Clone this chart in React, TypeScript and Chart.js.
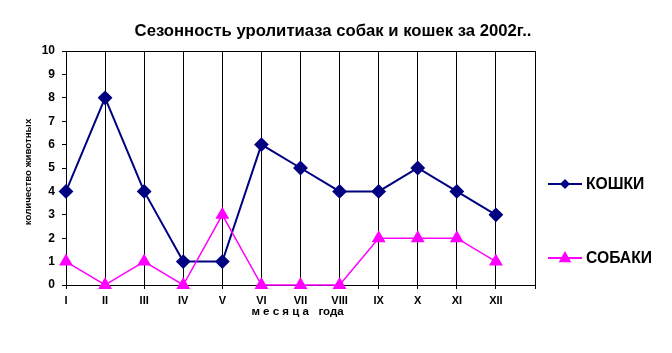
import React, { useEffect, useRef } from "react";
import { Chart, registerables } from "chart.js";

Chart.register(...registerables);

const TITLE = "Сезонность уролитиаза собак и кошек за 2002г..";
const X_TITLE = "м е с я ц а   года";
const Y_TITLE = "количество животных";
const months = ["I", "II", "III", "IV", "V", "VI", "VII", "VIII", "IX", "X", "XI", "XII", ""];
const catsLabel = "КОШКИ";
const dogsLabel = "СОБАКИ";
const cats = [4, 8, 4, 1, 1, 6, 5, 4, 4, 5, 4, 3];
const dogs = [1, 0, 1, 0, 3, 0, 0, 0, 2, 2, 2, 1];
const yMin = 0;
const yMax = 10;

const CAT_COLOR = "#000080";
const DOG_COLOR = "#FF00FF";
const FONT = '"Liberation Sans", Arial, sans-serif';

function drawDiamond(ctx: CanvasRenderingContext2D, x: number, y: number, r: number) {
  ctx.beginPath();
  ctx.moveTo(x, y - r);
  ctx.lineTo(x + r, y);
  ctx.lineTo(x, y + r);
  ctx.lineTo(x - r, y);
  ctx.closePath();
  ctx.fill();
}
function drawTriangle(ctx: CanvasRenderingContext2D, x: number, y: number, r: number) {
  ctx.beginPath();
  ctx.moveTo(x, y - r);
  ctx.lineTo(x + r * 0.9, y + r * 0.6);
  ctx.lineTo(x - r * 0.9, y + r * 0.6);
  ctx.closePath();
  ctx.fill();
}

const textPlugin = {
  id: "texts",
  afterDraw(chart: any) {
    const ctx: CanvasRenderingContext2D = chart.ctx;
    const { left, right, top, bottom } = chart.chartArea;
    ctx.save();
    ctx.fillStyle = "#000";
    ctx.textAlign = "center";
    ctx.textBaseline = "middle";
    ctx.font = `bold 16.7px ${FONT}`;
    ctx.fillText(TITLE, 333, 31);

    ctx.font = `bold 11.5px ${FONT}`;
    ctx.fillText(X_TITLE, (left + right) / 2 - 3, 312);

    ctx.save();
    ctx.translate(28, (top + bottom) / 2 + 4);
    ctx.rotate(-Math.PI / 2);
    ctx.font = `bold 9.7px ${FONT}`;
    ctx.fillText(Y_TITLE, 0, 0);
    ctx.restore();

    // legend
    const items = [
      { label: catsLabel, color: CAT_COLOR, y: 184, kind: "d" },
      { label: dogsLabel, color: DOG_COLOR, y: 258, kind: "t" },
    ];
    for (const it of items) {
      ctx.strokeStyle = it.color;
      ctx.fillStyle = it.color;
      ctx.lineWidth = 2;
      ctx.beginPath();
      ctx.moveTo(548, it.y);
      ctx.lineTo(582, it.y);
      ctx.stroke();
      if (it.kind === "d") drawDiamond(ctx, 565, it.y, 5);
      else drawTriangle(ctx, 565, it.y, 7);
      ctx.fillStyle = "#000";
      ctx.textAlign = "left";
      ctx.font = `bold 15.7px ${FONT}`;
      ctx.fillText(it.label, 586, it.y + 1);
    }
    ctx.restore();
  },
};

export default function App() {
  const ref = useRef<HTMLCanvasElement>(null);
  useEffect(() => {
    document.body.style.margin = "0";
    const canvas = ref.current!;
    const chart = new Chart(canvas, {
      type: "line",
      data: {
        labels: months,
        datasets: [
          {
            label: catsLabel,
            data: cats,
            borderColor: CAT_COLOR,
            backgroundColor: CAT_COLOR,
            borderWidth: 2,
            pointStyle: "rectRot",
            pointRadius: 6,
            pointHoverRadius: 6,
            tension: 0,
            clip: false,
            order: 1,
          },
          {
            label: dogsLabel,
            data: dogs,
            borderColor: DOG_COLOR,
            backgroundColor: DOG_COLOR,
            borderWidth: 1.5,
            pointStyle: "triangle",
            pointRadius: 6.5,
            pointHoverRadius: 6.5,
            tension: 0,
            clip: false,
            order: 0,
          },
        ],
      },
      options: {
        animation: false,
        responsive: false,
        layout: { padding: { left: 0, right: 137, top: 51, bottom: 0 } },
        plugins: {
          legend: { display: false },
          title: { display: false },
          tooltip: { enabled: false },
        },
        scales: {
          x: {
            type: "category",
            offset: false,
            grid: {
              color: "#000",
              lineWidth: 1,
              drawTicks: true,
              tickLength: 4,
              tickColor: "#000",
            },
            border: { color: "#000", width: 1 },
            ticks: {
              color: "#000",
              font: { family: FONT, size: 11, weight: "bold" },
              autoSkip: false,
              maxRotation: 0,
              padding: 5,
            },
            afterFit: (s: any) => {
              s.height = 68;
            },
          },
          y: {
            min: yMin,
            max: yMax,
            grid: {
              color: (c: any) => (c.tick && c.tick.value === yMax ? "#000" : "rgba(0,0,0,0)"),
              tickColor: "#000",
              drawTicks: true,
              tickLength: 4,
              lineWidth: 1,
            },
            border: { color: "#000", width: 1 },
            ticks: {
              stepSize: 1,
              color: "#000",
              font: { family: FONT, size: 12, weight: "bold" },
              padding: 7,
            },
            afterFit: (s: any) => {
              s.width = 66;
            },
          },
        },
      },
      plugins: [textPlugin],
    } as any);
    return () => chart.destroy();
  }, []);
  return (
    <div style={{ width: 672, height: 353, background: "#fff" }}>
      <canvas ref={ref} width={672} height={353} style={{ display: "block" }} />
    </div>
  );
}
